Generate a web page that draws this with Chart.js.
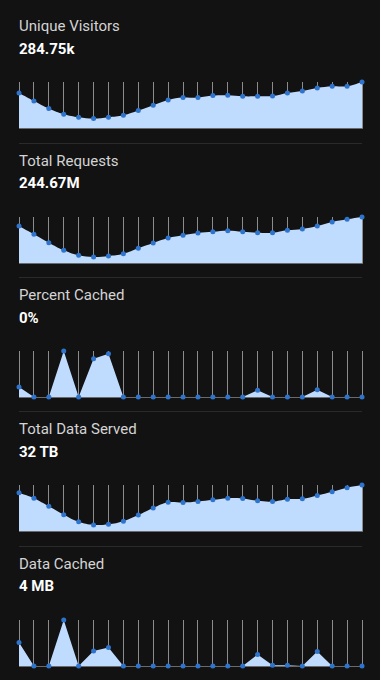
<!DOCTYPE html>
<html>
<head>
<meta charset="utf-8">
<script src="https://cdn.jsdelivr.net/npm/chart.js@4"></script>
<style>
  html, body { margin: 0; padding: 0; background: #121212; width: 380px; height: 680px; overflow: hidden; font-family: Roboto, "Noto Sans", sans-serif; }
  .section { position: absolute; left: 0; width: 380px; height: 134px; }
  .sep { position: absolute; left: 19px; width: 343px; top: 0; height: 1px; background: #2a2a2a; }
  .title { position: absolute; left: 19px; top: 9px; font-size: 15px; line-height: 18px; color: #d4d4d4; }
  .value { position: absolute; left: 19px; top: 31.5px; font-size: 15px; line-height: 18px; font-weight: 700; color: #ffffff; }
  .plot { position: absolute; left: 14px; top: 70px; width: 353px; height: 54px; }
</style>
</head>
<body>
<script>
// hourly buckets, relative heights
const hours = ["00", "01", "02", "03", "04", "05", "06", "07", "08", "09", "10", "11",
  "12", "13", "14", "15", "16", "17", "18", "19", "20", "21", "22", "23"];

const uniqueVisitors = [35, 27, 19.4, 13.7, 10.7, 9.4, 10.7, 12.7, 17.4, 22.7, 28, 30.4,
  30.4, 32.4, 32.7, 31.7, 31.7, 32, 35, 37, 40, 41.7, 41.7, 46];
const totalRequests = [37, 28.7, 20.3, 12.7, 7.7, 6, 7, 9.3, 14.7, 20, 25, 27.7,
  30, 31.3, 32.3, 31.3, 30.3, 30.3, 32.7, 34, 37, 41, 43.7, 46];
const percentCached = [10, 0, 0, 46, 0, 38.3, 43.3, 0, 0, 0, 0, 0,
  0, 0, 0, 0, 6.7, 0, 0, 0, 7.3, 0, 0, 0];
const totalDataServed = [37.7, 32.3, 24.3, 16, 9, 6, 6.7, 9.7, 15.7, 22.7, 28.3, 28,
  29, 30.7, 32.3, 32, 29.7, 29, 31.3, 31.7, 35, 38.7, 42.7, 45.3];
const dataCached = [23, 0, 0, 45, 0, 14.7, 18, 0, 0, 0, 0, 0,
  0, 0, 0, 0, 11.3, 0.7, 0.7, 0, 14.3, 0, 0, 0];

const panels = [
  { title: "Unique Visitors", total: "284.75k", data: uniqueVisitors, tension: 0.4 },
  { title: "Total Requests", total: "244.67M", data: totalRequests, tension: 0.4 },
  { title: "Percent Cached", total: "0%", data: percentCached, tension: 0 },
  { title: "Total Data Served", total: "32 TB", data: totalDataServed, tension: 0.4 },
  { title: "Data Cached", total: "4 MB", data: dataCached, tension: 0 }
];

panels.forEach((p, i) => {
  const sec = document.createElement("div");
  sec.className = "section";
  sec.style.top = (8.2 + i * 134.4) + "px";
  sec.innerHTML =
    (i > 0 ? '<div class="sep"></div>' : "") +
    '<div class="title">' + p.title + '</div>' +
    '<div class="value">' + p.total + '</div>' +
    '<div class="plot"><canvas></canvas></div>';
  document.body.appendChild(sec);

  new Chart(sec.querySelector("canvas"), {
    type: "line",
    data: {
      labels: hours,
      datasets: [{
        data: p.data,
        fill: "origin",
        backgroundColor: "#bfdbfe",
        borderColor: "#bfdbfe",
        borderWidth: 0,
        tension: p.tension,
        pointRadius: 2.5,
        pointBackgroundColor: "#2f74cc",
        pointBorderColor: "#2f74cc",
        pointBorderWidth: 0,
        clip: false
      }]
    },
    options: {
      responsive: true,
      maintainAspectRatio: false,
      animation: false,
      layout: { padding: { left: 5, right: 5, top: 3.5, bottom: 4 } },
      plugins: { legend: { display: false }, tooltip: { enabled: false } },
      scales: {
        x: {
          offset: false,
          ticks: { display: false },
          grid: { color: "#8c8c8c", lineWidth: 1, drawTicks: false },
          border: { display: true, color: "#6a6a6a", width: 1 }
        },
        y: {
          display: false,
          min: 0,
          max: Math.max(...p.data)
        }
      }
    }
  });
});
</script>
</body>
</html>
